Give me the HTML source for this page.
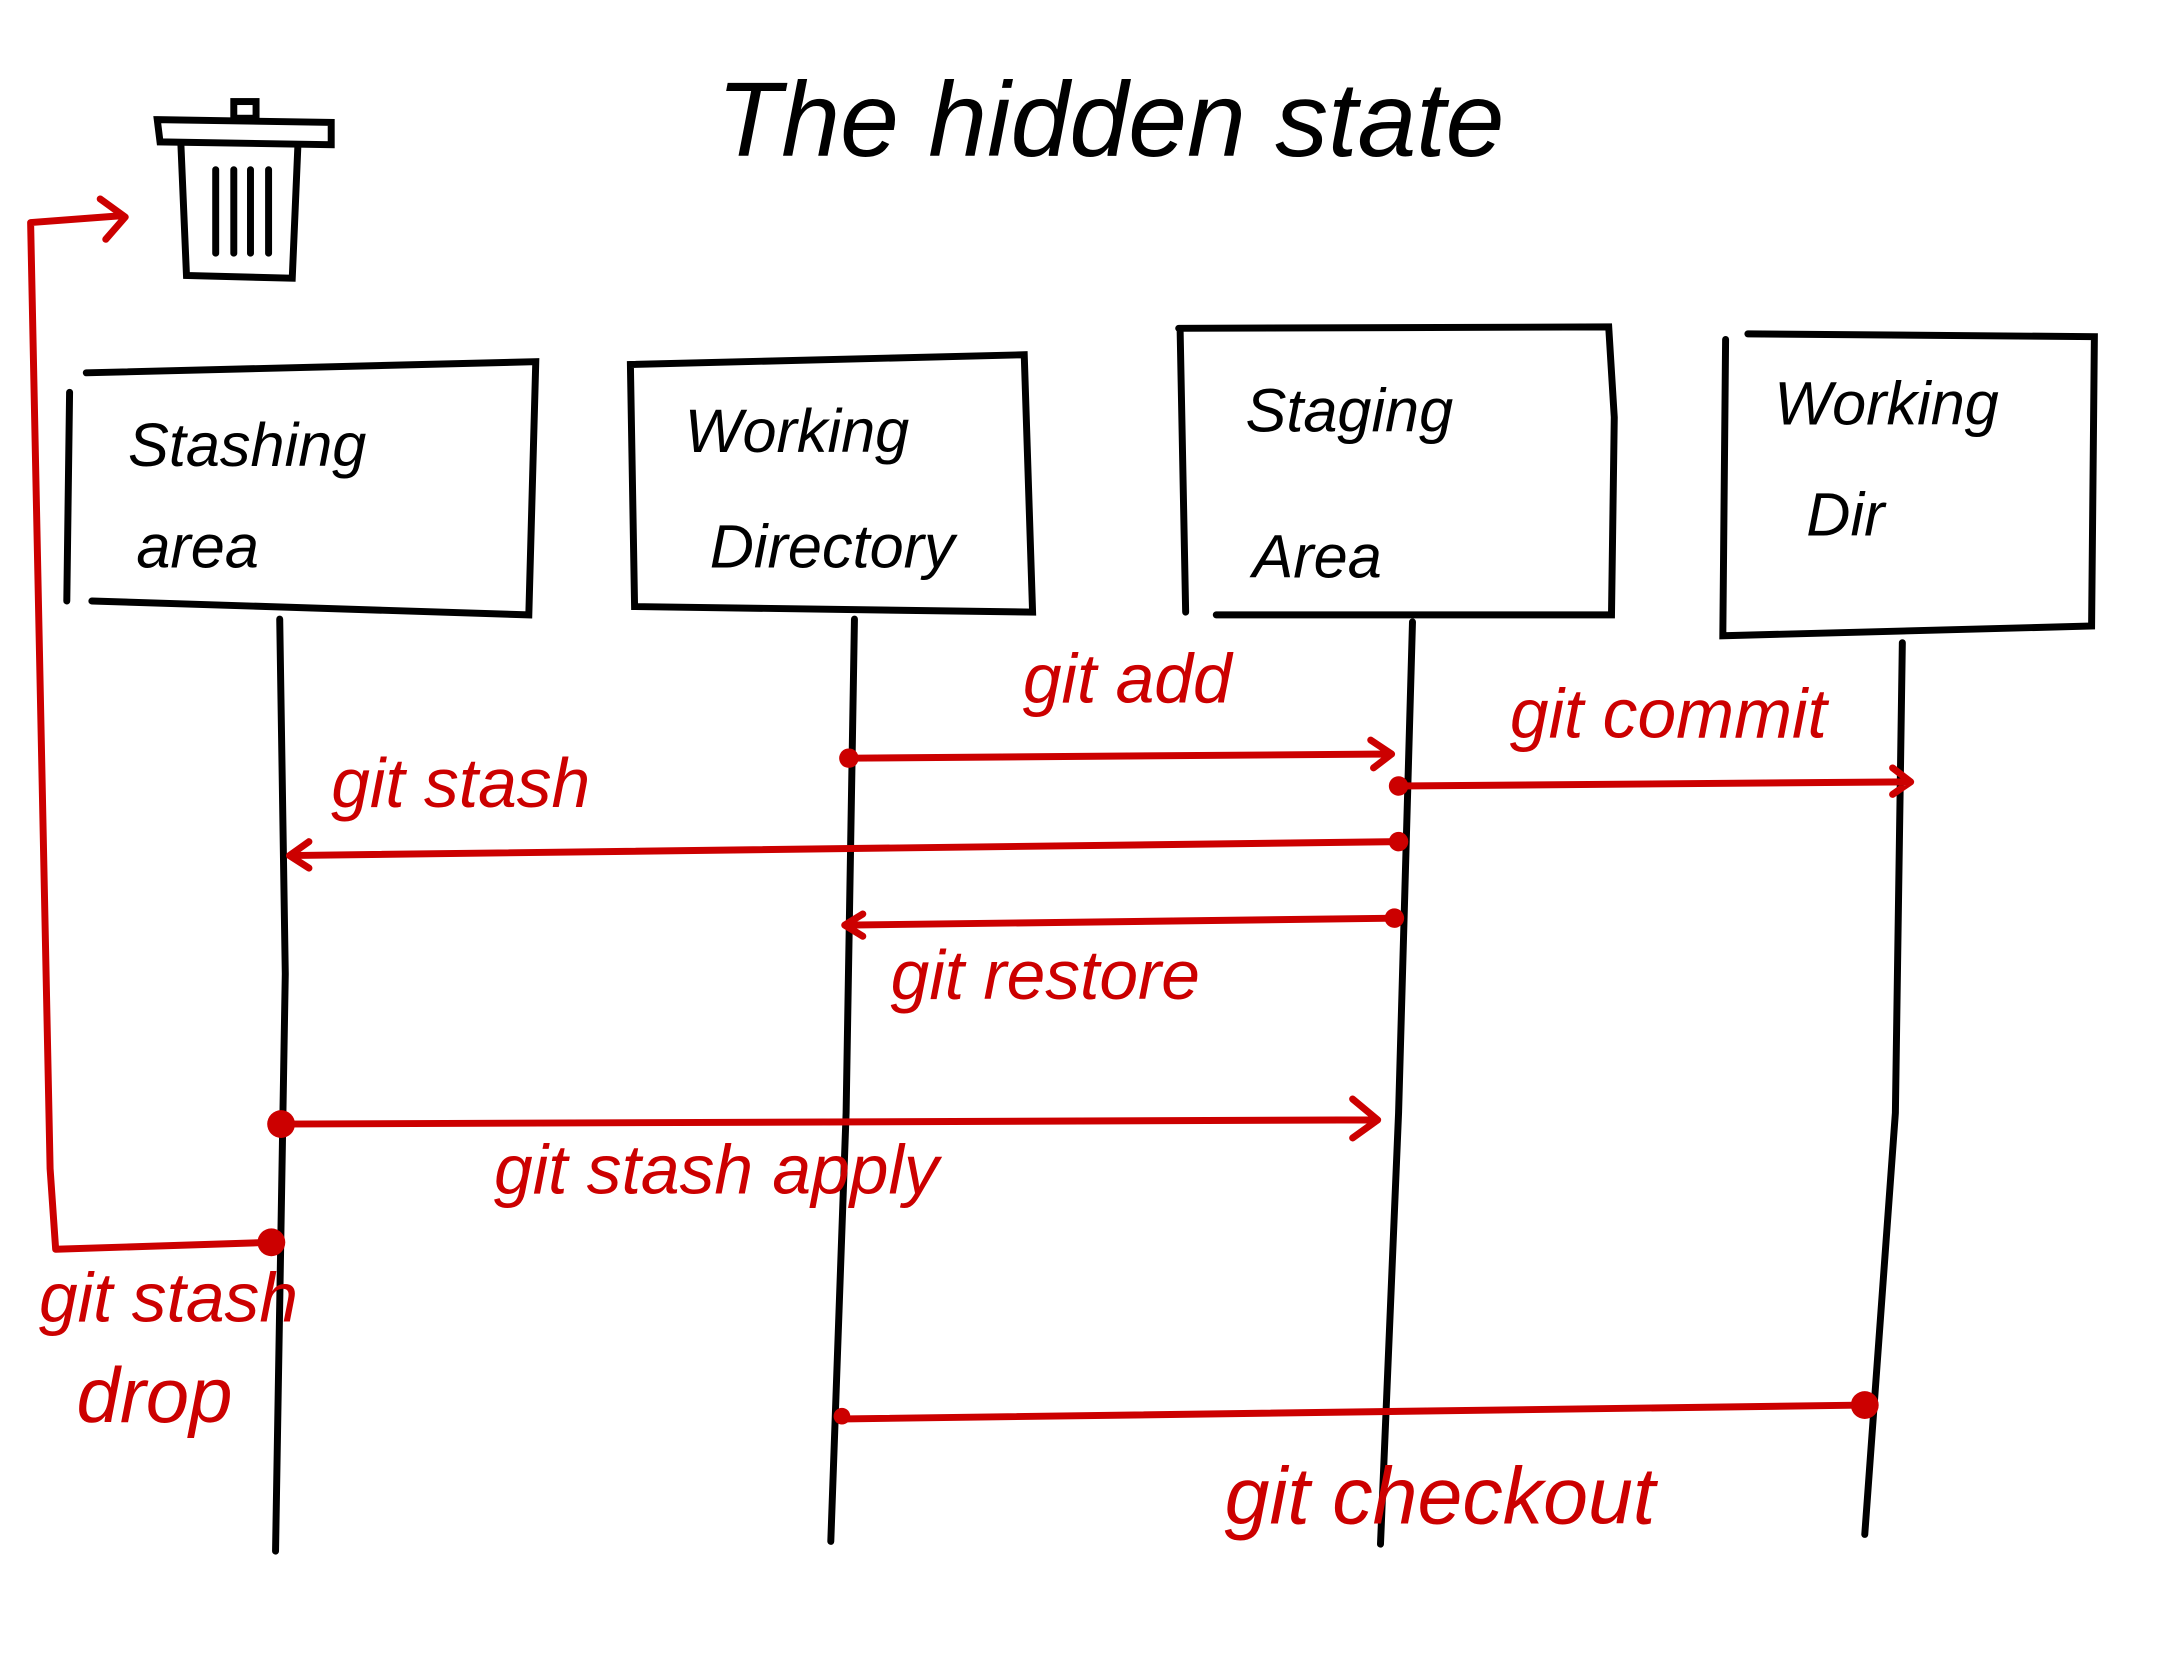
<!DOCTYPE html>
<html><head><meta charset="utf-8"><style>
html,body{margin:0;padding:0;background:#fff;}
svg{display:block;}
text{font-family:"Liberation Sans",sans-serif;font-style:italic;}
</style></head><body>
<svg width="2157" height="1668" viewBox="0 0 1550 1199" preserveAspectRatio="none" xmlns="http://www.w3.org/2000/svg">
<rect width="1550" height="1199" fill="#fff"/>
<text x="515" y="112" font-size="76" fill="#000">The  hidden  state</text>
<g stroke="#000" stroke-width="5" fill="none" stroke-linecap="round">
<rect x="168" y="73" width="16" height="12"/>
<path d="M113 86 L238 88 L238 104 L115 102 Z"/>
<path d="M130 104 L134 198 L210 200 L214 106"/>
<path d="M155 122 V182 M168 122 V182 M180 122 V182 M193 122 V182"/>
</g>
<g stroke="#000" stroke-width="5" fill="none" stroke-linecap="round">
<path d="M62 268 L385 260 L380 442 L66 432 M50 282 L48 432"/>
<path d="M453 262 L736 255 L742 440 L456 436 Z"/>
<path d="M847 236 L1156 235 L1160 300 L1158 442 L874 442 M848 236 L852 440"/>
<path d="M1256 240 L1505 242 L1503 450 L1238 457 L1240 244"/>
</g>
<g font-size="44" fill="#000">
<text x="92" y="335">Stashing</text>
<text x="98" y="408">area</text>
<text x="492" y="325">Working</text>
<text x="510" y="408">Directory</text>
<text x="895" y="310">Staging</text>
<text x="900" y="415">Area</text>
<text x="1275" y="305">Working</text>
<text x="1298" y="385">Dir</text>
</g>
<g stroke="#000" stroke-width="5" fill="none" stroke-linecap="round">
<path d="M201 445 L205 700 L198 1115"/>
<path d="M614 445 L608 800 L597 1108"/>
<path d="M1015 447 L1005 800 L992 1110"/>
<path d="M1367 462 L1362 800 L1340 1103"/>
</g>
<g stroke="#cc0000" stroke-width="5" fill="none" stroke-linecap="round" stroke-linejoin="round">
<path d="M610 545 L998 542 M985 532 L1000 542 L987 552"/>
<path d="M1005 565 L1372 562 M1360 552 L1373 562 L1360 571"/>
<path d="M1005 605 L208 615 M222 605 L208 615 L222 624"/>
<path d="M1002 660 L608 665 M620 657 L607 665 L620 673"/>
<path d="M202 808 L988 805 M972 790 L990 805 L972 818"/>
<path d="M195 893 L40 898 L36 840 L22 160 L88 155 M72 143 L90 156 L76 172"/>
<path d="M1340 1010 L603 1020"/>
</g>
<g fill="#cc0000">
<circle cx="610" cy="545" r="7"/><circle cx="1005" cy="565" r="7"/>
<circle cx="1005" cy="605" r="7"/><circle cx="1002" cy="660" r="7"/>
<circle cx="202" cy="808" r="10"/><circle cx="195" cy="893" r="10"/>
<circle cx="1340" cy="1010" r="10"/><circle cx="605" cy="1018" r="6"/>
</g>
<g font-size="50" fill="#cc0000">
<text x="735" y="505">git add</text>
<text x="1085" y="530">git commit</text>
<text x="238" y="580">git stash</text>
<text x="640" y="718">git restore</text>
<text x="355" y="858">git  stash apply</text>
<text x="28" y="950">git stash</text>
<text x="55" y="1022" font-size="56">drop</text>
<text x="880" y="1095" font-size="58">git  checkout</text>
</g>
</svg>
</body></html>
